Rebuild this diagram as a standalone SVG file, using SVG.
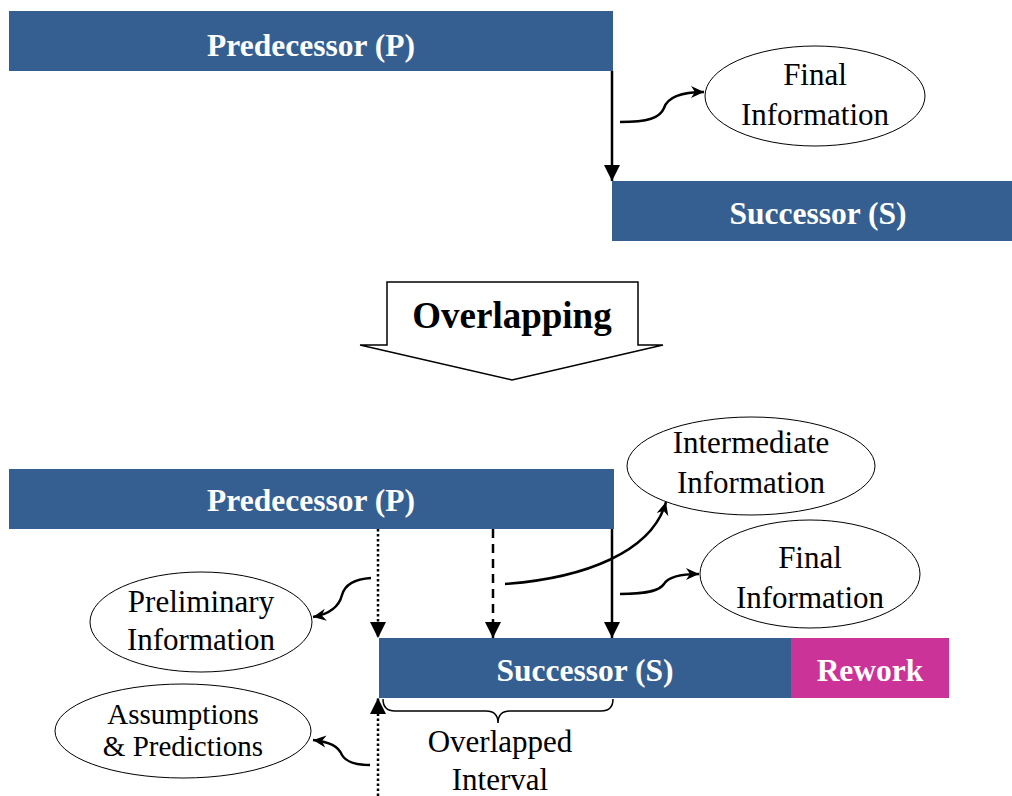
<svg xmlns="http://www.w3.org/2000/svg" width="1012" height="796" viewBox="0 0 1012 796">
<style>
.bar{fill:#355F91}
.rw{fill:#CC3399}
.bt{font-family:"Liberation Serif","Times New Roman",serif;font-weight:bold;font-size:31.5px;fill:#fff;text-anchor:middle}
.t{font-family:"Liberation Serif","Times New Roman",serif;font-size:31px;fill:#000;text-anchor:middle}
.ts{font-family:"Liberation Serif","Times New Roman",serif;font-size:29px;fill:#000;text-anchor:middle}
.el{fill:#fff;stroke:#000;stroke-width:1}
.ln{fill:none;stroke:#000;stroke-width:2.5}
</style>
<defs>
<marker id="tri" viewBox="0 0 16 16" refX="16" refY="8" markerWidth="16" markerHeight="16" orient="auto" markerUnits="userSpaceOnUse">
<path d="M0,0 L16,8 L0,16 z" fill="#000"/>
</marker>
<marker id="ch" viewBox="0 0 14 14" refX="13" refY="7" markerWidth="14" markerHeight="14" orient="auto" markerUnits="userSpaceOnUse">
<path d="M0,1 L13,7 L0,13 L4,7 z" fill="#000"/>
</marker>
</defs>
<rect width="1012" height="796" fill="#fff"/>

<g id="top-pred"><rect class="bar" x="9" y="11" width="604" height="60"/><text class="bt" x="311" y="56">Predecessor (P)</text></g>
<g id="top-succ"><rect class="bar" x="612" y="181" width="400" height="60"/><text class="bt" x="818" y="224">Successor (S)</text></g>
<g id="top-final"><ellipse class="el" cx="815" cy="96" rx="110" ry="50"/><text class="t" x="815" y="85">Final</text><text class="t" x="815" y="125">Information</text></g>

<g id="overlap"><path d="M387,282 L638,282 L638,345 L663,345 L512,380 L360,345 L387,345 Z" fill="#fff" stroke="#000" stroke-width="1.5"/><text x="512" y="328" font-family="Liberation Serif,Times New Roman,serif" font-weight="bold" font-size="37" text-anchor="middle">Overlapping</text></g>

<g id="bot-pred"><rect class="bar" x="9" y="469" width="605" height="60"/><text class="bt" x="311" y="511">Predecessor (P)</text></g>
<g id="bot-succ"><rect class="bar" x="379" y="638" width="412" height="60"/><text class="bt" x="585" y="681">Successor (S)</text></g>
<g id="rework"><rect class="rw" x="791" y="638" width="158" height="60"/><text class="bt" x="870" y="681">Rework</text></g>
<g id="inter"><ellipse class="el" cx="751" cy="466" rx="124" ry="49"/><text class="t" x="751" y="453">Intermediate</text><text class="t" x="751" y="493">Information</text></g>
<g id="bot-final"><ellipse class="el" cx="810" cy="574" rx="110" ry="54"/><text class="t" x="810" y="568">Final</text><text class="t" x="810" y="608">Information</text></g>
<g id="prelim"><ellipse class="el" cx="201" cy="622" rx="111" ry="50"/><text class="t" x="201" y="612">Preliminary</text><text class="t" x="201" y="650">Information</text></g>
<g id="assump"><ellipse class="el" cx="183" cy="731" rx="128" ry="47"/><text class="ts" x="183" y="724">Assumptions</text><text class="ts" x="183" y="756">&amp; Predictions</text></g>
<g id="interval"><text class="t" x="500" y="752">Overlapped</text><text class="t" x="500" y="790">Interval</text></g>

<g id="connectors">
<line class="ln" x1="612" y1="71" x2="612" y2="181" marker-end="url(#tri)"/>
<path class="ln" d="M620,122 C648,122 660,118 664,108 C668,96 684,92 704,92" marker-end="url(#ch)"/>
<line class="ln" x1="378" y1="529" x2="378" y2="638" stroke-dasharray="2.5,2.5" marker-end="url(#tri)"/>
<line class="ln" x1="493" y1="529" x2="493" y2="638" stroke-dasharray="9,6" marker-end="url(#tri)"/>
<line class="ln" x1="612" y1="529" x2="612" y2="638" marker-end="url(#tri)"/>
<path class="ln" d="M505,584 C585,578 652,552 666,502" marker-end="url(#ch)"/>
<path class="ln" d="M620,594 C650,594 660,590 664,584 C668,577 680,574 699,574" marker-end="url(#ch)"/>
<path class="ln" d="M371,578 C355,579 345,584 342,595 C339,607 330,614 313,617" marker-end="url(#ch)"/>
<line class="ln" x1="378" y1="796" x2="378" y2="698" stroke-dasharray="2.5,2.5" marker-end="url(#tri)"/>
<path class="ln" d="M370,765 C355,765 346,762 342,755 C338,746 330,742 313,740" marker-end="url(#ch)"/>
<path d="M383,699 Q383,711 395,711 L486,711 Q498,711 498,723 Q498,711 510,711 L601,711 Q613,711 613,699" fill="none" stroke="#000" stroke-width="1.5"/>
</g>
</svg>
